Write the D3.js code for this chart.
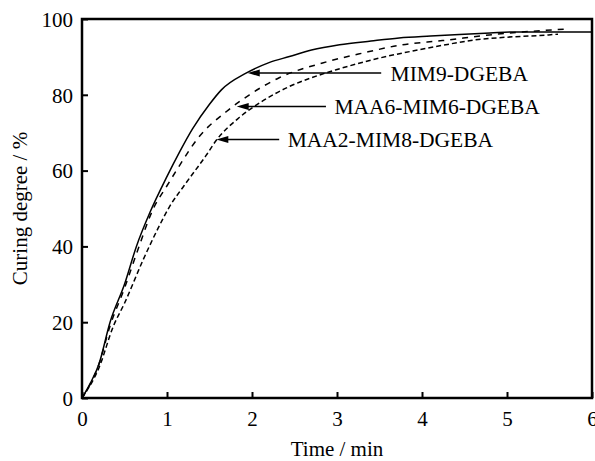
<!DOCTYPE html>
<html>
<head>
<meta charset="utf-8">
<script src="https://cdn.jsdelivr.net/npm/d3@7"></script>
<style>
  body { margin: 0; background: #fff; }
  text { font-family: "Liberation Serif", "Times New Roman", serif; fill: #000; }
</style>
</head>
<body>
<div id="content"></div>
<script>
var width = 595,
    height = 461;

// plot box in pixels
var plotLeft = 82, plotRight = 592, plotTop = 19, plotBottom = 398;

// curves: time (min) and curing degree (%)
var mim9Time   = [0, 0.1, 0.2, 0.33, 0.5, 0.64, 0.8, 0.99, 1.15, 1.3, 1.5, 1.64, 1.93, 2.2, 2.44, 2.7, 3.03, 3.4, 3.73, 4.1, 4.44, 4.8, 5.1, 5.5, 6];
var mim9Degree = [0, 4, 9, 20, 30, 40, 49, 58, 65, 71, 77.5, 81.3, 85.7, 88.5, 90.1, 91.8, 93.2, 94.2, 95, 95.5, 95.9, 96.3, 96.6, 96.6, 96.6];

var maa6Time   = [0, 0.2, 0.33, 0.5, 0.64, 0.84, 1.0, 1.11, 1.38, 1.7, 1.97, 2.32, 2.83, 3.3, 3.77, 4.24, 4.79, 5.14, 5.73];
var maa6Degree = [0, 9, 19, 29, 38, 50, 56, 60, 69, 75.6, 80, 84.5, 88.4, 91, 93.2, 94.3, 95.8, 96.5, 97.4];

var maa2Time   = [0, 0.2, 0.37, 0.5, 0.72, 0.9, 1.03, 1.2, 1.46, 1.58, 1.85, 2.1, 2.44, 2.7, 2.99, 3.5, 3.97, 4.3, 4.63, 5.0, 5.49, 5.6];
var maa2Degree = [0, 8, 19, 25, 36.5, 45, 50.5, 56, 64, 68, 74, 78, 82.2, 84.5, 86.6, 89.7, 91.9, 93.3, 94.5, 95.2, 95.8, 96];

var xTicks = [0, 1, 2, 3, 4, 5, 6];
var yTicks = [0, 20, 40, 60, 80, 100];

// labels with arrows: tip (time, degree), line end time, text start time
var labelNames = ["MIM9-DGEBA", "MAA6-MIM6-DGEBA", "MAA2-MIM8-DGEBA"];
var labelTipTime = [1.95, 1.82, 1.58];
var labelTipDegree = [85.75, 76.9, 68.2];
var labelEndTime = [3.52, 2.87, 2.32];
var labelTextTime = [3.63, 2.97, 2.42];

var series = [
    { t: mim9Time, v: mim9Degree, dash: null },
    { t: maa6Time, v: maa6Degree, dash: "6,6" },
    { t: maa2Time, v: maa2Degree, dash: "5,3" }
];

var svg = d3.select("#content")
    .append("svg")
    .attr("width", width)
    .attr("height", height);

svg.append("rect").attr("width", width).attr("height", height).attr("fill", "#fff");

var x = d3.scaleLinear().domain([0, 6]).range([plotLeft, plotRight]);
var y = d3.scaleLinear().domain([0, 100]).range([plotBottom, plotTop]);

// curves
var line = d3.line()
    .x(function (d) { return x(d[0]); })
    .y(function (d) { return y(d[1]); })
    .curve(d3.curveMonotoneX);

series.forEach(function (s) {
    var pts = s.t.map(function (t, i) { return [t, s.v[i]]; });
    svg.append("path")
        .datum(pts)
        .attr("d", line)
        .attr("fill", "none")
        .attr("stroke", "#000")
        .attr("stroke-width", 1.5)
        .attr("stroke-dasharray", s.dash);
});

// axes with inward ticks
var xAxis = svg.append("g")
    .attr("transform", "translate(0," + plotBottom + ")")
    .call(d3.axisBottom(x).tickValues(xTicks).tickSize(-6).tickPadding(13).tickFormat(d3.format("d")));
var yAxis = svg.append("g")
    .attr("transform", "translate(" + plotLeft + ",0)")
    .call(d3.axisLeft(y).tickValues(yTicks).tickSize(-6).tickPadding(9).tickFormat(d3.format("d")));

[xAxis, yAxis].forEach(function (a) {
    a.select(".domain").remove();
    a.selectAll(".tick line").attr("stroke", "#000").attr("stroke-width", 2);
    a.selectAll(".tick text")
        .style("font-family", "'Liberation Serif', 'Times New Roman', serif")
        .style("font-size", "21px");
});
xAxis.selectAll(".tick text").attr("dy", "0.71em");
yAxis.selectAll(".tick text").attr("dy", "0.35em");

// frame
svg.append("rect")
    .attr("x", plotLeft)
    .attr("y", plotTop)
    .attr("width", plotRight - plotLeft)
    .attr("height", plotBottom - plotTop)
    .attr("fill", "none")
    .attr("stroke", "#000")
    .attr("stroke-width", 2.5);

// annotations: line plus filled arrow head
labelNames.forEach(function (name, i) {
    var tx = x(labelTipTime[i]), ty = y(labelTipDegree[i]);
    svg.append("line")
        .attr("x1", x(labelEndTime[i]))
        .attr("y1", ty)
        .attr("x2", tx + 10)
        .attr("y2", ty)
        .attr("stroke", "#000")
        .attr("stroke-width", 1.5);
    svg.append("path")
        .attr("d", "M" + tx + "," + ty + " l12,-3.5 l0,7 Z")
        .attr("fill", "#000");
    svg.append("text")
        .attr("x", x(labelTextTime[i]))
        .attr("y", ty)
        .attr("dy", "0.35em")
        .style("font-size", "21.5px")
        .text(name);
});

// axis titles
svg.append("text")
    .attr("x", (plotLeft + plotRight) / 2)
    .attr("y", 456)
    .attr("text-anchor", "middle")
    .style("font-size", "21px")
    .text("Time / min");

svg.append("text")
    .attr("transform", "translate(27," + (plotTop + plotBottom) / 2 + ") rotate(-90)")
    .attr("text-anchor", "middle")
    .style("font-size", "21px")
    .text("Curing degree / %");
</script>
</body>
</html>
